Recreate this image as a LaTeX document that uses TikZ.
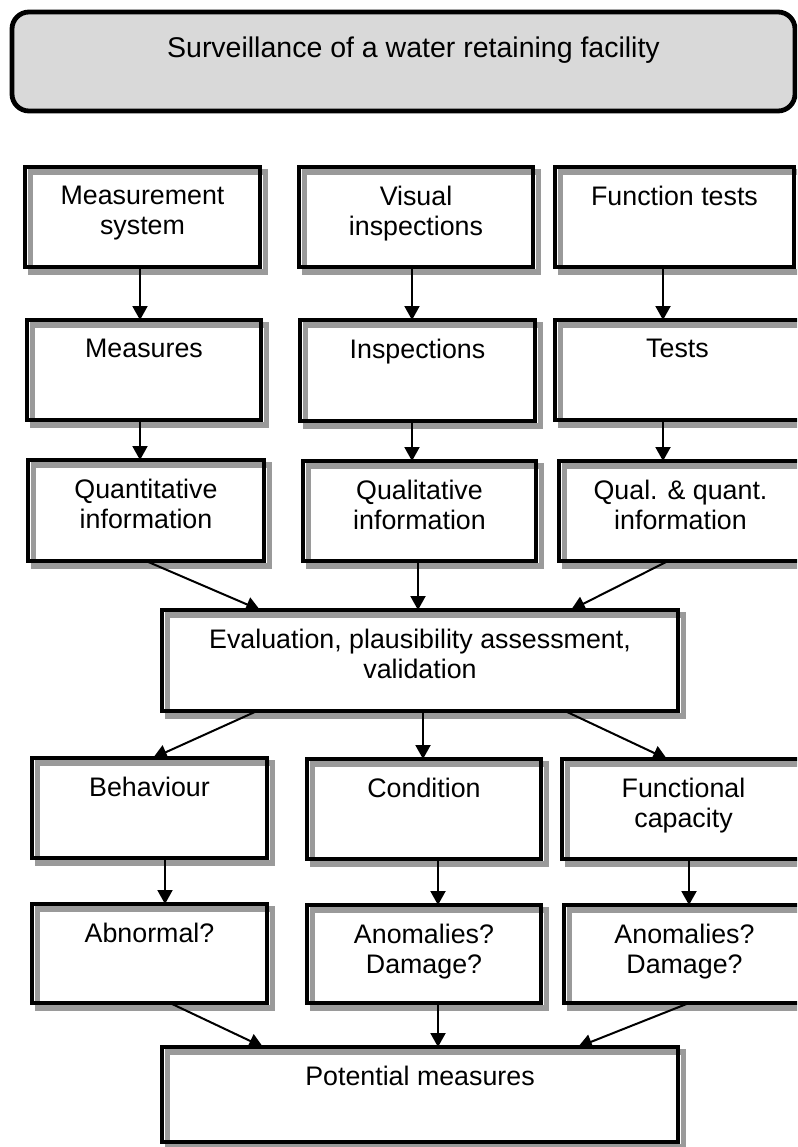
\documentclass[tikz,border=0pt]{standalone}
\usepackage{fontspec}
\setmainfont{Liberation Sans}
\usetikzlibrary{arrows.meta}
\definecolor{shadowgray}{HTML}{9A9A9A}
\definecolor{topfill}{HTML}{D9D9D9}
\newcommand\mybox[6]{%
  \node[stepbox, minimum width={(#4-#2)*1pt}, minimum height={(#5-#3)*1pt}] (#1) at ({(#2+#4)/2},{(#3+#5)/2}) {};
  \node[lbl] (#1t) at ({(#2+#4)/2},{#3+18.5}) {#6};}
\begin{document}
\begin{tikzpicture}[x=1pt,y=-1pt,
  stepbox/.style={rectangle, draw=black, line width=4.8pt, inner sep=0pt, outer sep=0pt,
    preaction={draw=shadowgray, line width=5.5pt, transform canvas={xshift=5.5pt,yshift=-5pt}}},
  topbox/.style={rectangle, rounded corners=17pt, draw=black, line width=4.8pt, fill=topfill, inner sep=0pt, outer sep=0pt},
  lbl/.style={anchor=north, align=center, inner sep=0pt, font=\fontsize{26.8}{30.5}\selectfont},
  arr/.style={line width=2pt, -{Triangle[width=15pt,length=14pt]}},
]
\useasboundingbox (0,0) rectangle (797,1147);
\clip (0,0) rectangle (797,1147);

\node[topbox, minimum width=783pt, minimum height=99pt] (tb) at (403.5,61.5) {};
\node[anchor=base east, inner sep=0pt, font=\fontsize{28.5}{32}\selectfont] (tbt) at (660,58) {Surveillance of a water retaining facility};

\mybox{ms}{25}{167}{260}{267}{Measurement\\system}
\mybox{vi}{299}{167}{533}{267}{Visual\\inspections}
\mybox{ft}{555}{167}{794}{267}{Function tests}
\mybox{me}{27}{320}{261}{420}{Measures}
\mybox{in}{300}{320}{535}{421}{Inspections}
\mybox{te}{555}{320}{800}{420}{Tests}
\mybox{qn}{28}{460}{264}{561}{Quantitative\\information}
\mybox{ql}{303}{461}{536}{561}{Qualitative\\information}
\mybox{qq}{559}{461}{802}{561}{Qual. \& quant.\\information}
\mybox{ev}{162}{610}{678}{711}{Evaluation, plausibility assessment,\\validation}
\mybox{be}{32}{758}{267}{858}{Behaviour}
\mybox{co}{307}{759}{541}{859}{Condition}
\mybox{fc}{562}{759}{805}{859}{Functional\\capacity}
\mybox{ab}{32}{904}{267}{1003}{Abnormal?}
\mybox{an}{307}{905}{541}{1003}{Anomalies?\\Damage?}
\mybox{anr}{564}{905}{805}{1003}{Anomalies?\\Damage?}
\mybox{pm}{162}{1047}{678}{1142}{Potential measures}

\draw[arr] (ms.south -| 140,0) -- (me.north -| 140,0);
\draw[arr] (me.south -| 140,0) -- (qn.north -| 140,0);
\draw[arr] (vi.south -| 412,0) -- (in.north -| 412,0);
\draw[arr] (in.south -| 412,0) -- (ql.north -| 412,0);
\draw[arr] (ft.south -| 663,0) -- (te.north -| 663,0);
\draw[arr] (te.south -| 663,0) -- (qq.north -| 663,0);
\draw[arr] (qn.south -| 146,0) -- (ev.north -| 260,0);
\draw[arr] (ql.south -| 418,0) -- (ev.north -| 418,0);
\draw[arr] (qq.south -| 668,0) -- (ev.north -| 571,0);
\draw[arr] (ev.south -| 257,0) -- (be.north -| 153,0);
\draw[arr] (ev.south -| 423,0) -- (co.north -| 423,0);
\draw[arr] (ev.south -| 565,0) -- (fc.north -| 667,0);
\draw[arr] (be.south -| 165,0) -- (ab.north -| 165,0);
\draw[arr] (co.south -| 438,0) -- (an.north -| 438,0);
\draw[arr] (fc.south -| 689,0) -- (anr.north -| 689,0);
\draw[arr] (ab.south -| 170,0) -- (pm.north -| 263,0);
\draw[arr] (an.south -| 438,0) -- (pm.north -| 438,0);
\draw[arr] (anr.south -| 689,0) -- (pm.north -| 578,0);
\end{tikzpicture}
\end{document}
